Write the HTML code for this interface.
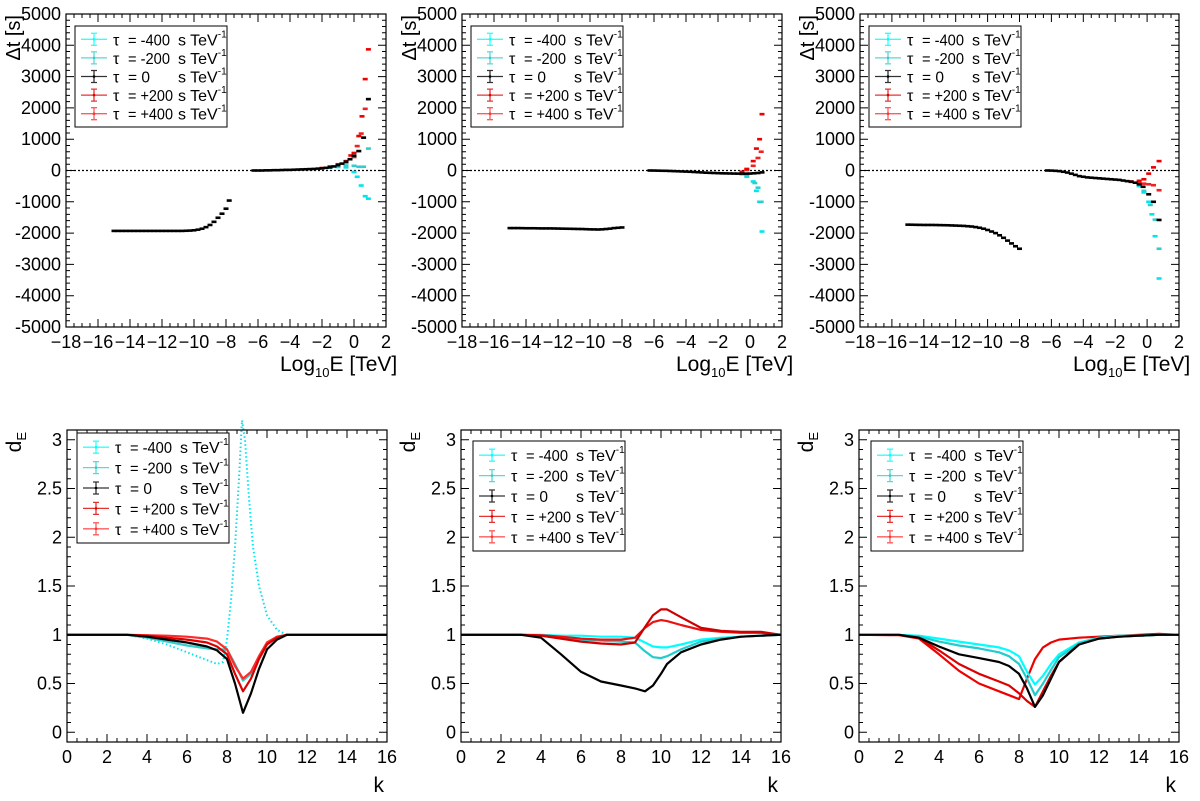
<!DOCTYPE html>
<html><head><meta charset="utf-8">
<style>
html,body{margin:0;padding:0;background:#fff;}
svg{display:block;font-family:"Liberation Sans",Arial,sans-serif;}
</style></head>
<body>
<svg id="fig" width="1200" height="801" viewBox="0 0 1200 801" xmlns="http://www.w3.org/2000/svg"></svg>
<script>
// ---------- TOP ROW DATA (Delta t vs log10 E) ----------
const topLowX1 = [-15,-14.75,-14.5,-14.25,-14,-13.75,-13.5,-13.25,-13,-12.75,-12.5,-12.25,-12,-11.75,-11.5,-11.25,-11,-10.75,-10.5,-10.25,-10,-9.75,-9.5,-9.25,-9,-8.75,-8.5,-8.25,-8,-7.8];
const topLowY1 = [-1930,-1930,-1930,-1930,-1930,-1930,-1930,-1930,-1930,-1930,-1930,-1930,-1930,-1930,-1930,-1930,-1930,-1930,-1925,-1920,-1910,-1890,-1860,-1810,-1740,-1640,-1510,-1380,-1220,-960];
const topHighX1 = [-6.25,-6,-5.75,-5.5,-5.25,-5,-4.75,-4.5,-4.25,-4,-3.75,-3.5,-3.25,-3,-2.75,-2.5,-2.25,-2,-1.75,-1.5,-1.25,-1,-0.75,-0.5,-0.25,0,0.3,0.6,0.9];
const topHighBlack1 = [0,0,0,5,5,10,10,15,20,20,25,30,35,40,45,50,60,70,85,100,130,170,220,280,360,470,620,1050,2280];
const topCyanAX1 = [-2,-1.5,-1,-0.5,0,0.2,0.45,0.7,0.9];
const topCyanA1 = [60,90,110,100,-50,-200,-480,-820,-900];
const topCyanBX1 = [-2,-1.5,-1,-0.5,0,0.3,0.6,0.9];
const topCyanB1 = [70,110,140,160,150,120,120,700];
const topRedAX1 = [-2,-1.5,-1,-0.5,-0.2,0,0.3,0.5,0.7,0.9];
const topRedA1 = [80,130,200,300,480,560,1100,1730,2920,3870];
const topRedBX1 = [-2,-1.5,-1,-0.5,0,0.2,0.45,0.7];
const topRedB1 = [70,110,170,260,430,780,1180,1970];

const topLowX2 = [-15,-14.75,-14.5,-14.25,-14,-13.75,-13.5,-13.25,-13,-12.75,-12.5,-12.25,-12,-11.75,-11.5,-11.25,-11,-10.75,-10.5,-10.25,-10,-9.75,-9.5,-9.25,-9,-8.75,-8.5,-8.25,-8];
const topLowY2 = [-1840,-1840,-1840,-1842,-1845,-1845,-1845,-1848,-1850,-1850,-1850,-1852,-1855,-1858,-1860,-1862,-1865,-1868,-1870,-1875,-1880,-1882,-1885,-1880,-1870,-1858,-1840,-1830,-1820];
const topHighX2 = [-6.25,-6,-5.75,-5.5,-5.25,-5,-4.75,-4.5,-4.25,-4,-3.75,-3.5,-3.25,-3,-2.75,-2.5,-2.25,-2,-1.75,-1.5,-1.25,-1,-0.75,-0.5,-0.25,0,0.25,0.5,0.75];
const topHighBlack2 = [0,-2,-5,-8,-10,-15,-20,-25,-30,-35,-40,-48,-55,-62,-70,-75,-80,-85,-90,-92,-95,-98,-100,-100,-100,-98,-90,-80,-60];
const topCyanAX2 = [-0.5,-0.2,0.2,0.4,0.6,0.75];
const topCyanA2 = [-120,-200,-350,-650,-1000,-1950];
const topCyanBX2 = [-0.5,-0.2,0.3,0.5,0.7];
const topCyanB2 = [-100,-150,-400,-550,-1000];
const topRedAX2 = [-0.5,-0.2,0.2,0.4,0.6,0.75];
const topRedA2 = [-40,50,300,700,1000,1800];
const topRedBX2 = [-0.5,-0.2,0.2,0.5,0.7];
const topRedB2 = [-60,20,150,400,600];

const topLowX3 = [-15,-14.75,-14.5,-14.25,-14,-13.75,-13.5,-13.25,-13,-12.75,-12.5,-12.25,-12,-11.75,-11.5,-11.25,-11,-10.75,-10.5,-10.25,-10,-9.75,-9.5,-9.25,-9,-8.75,-8.5,-8.25,-8];
const topLowY3 = [-1730,-1732,-1735,-1737,-1740,-1740,-1740,-1742,-1745,-1748,-1750,-1755,-1760,-1765,-1770,-1780,-1790,-1808,-1830,-1860,-1900,-1950,-2000,-2070,-2150,-2240,-2330,-2420,-2500];
const topHighX3 = [-6.25,-6,-5.75,-5.5,-5.25,-5,-4.75,-4.5,-4.25,-4,-3.75,-3.5,-3.25,-3,-2.75,-2.5,-2.25,-2,-1.75,-1.5,-1.25,-1,-0.75,-0.5,-0.25,0.1,0.4,0.75];
const topHighBlack3 = [0,-3,-10,-20,-40,-65,-100,-140,-180,-200,-220,-230,-240,-250,-260,-270,-280,-290,-300,-320,-340,-360,-390,-440,-520,-760,-1000,-1580];
const topCyanAX3 = [-0.5,-0.2,0.1,0.3,0.5,0.75];
const topCyanA3 = [-500,-700,-1000,-1400,-2100,-3450];
const topCyanBX3 = [-0.5,-0.2,0.2,0.5,0.75];
const topCyanB3 = [-450,-650,-1100,-1570,-2500];
const topRedAX3 = [-1,-0.5,-0.2,0.1,0.4,0.75];
const topRedA3 = [-350,-330,-280,-100,100,300];
const topRedBX3 = [-1,-0.5,-0.2,0.1,0.4,0.75];
const topRedB3 = [-360,-400,-420,-440,-470,-630];

// ---------- BOTTOM ROW DATA (d_E vs k) ----------
const kGrid1 = [0,1,2,3,4,5,6,7,7.5,8,8.4,8.8,9.2,9.6,10,10.5,11,12,13,14,15,16];
const dBlack1 = [1,1,1,1,0.98,0.95,0.92,0.88,0.84,0.75,0.5,0.2,0.4,0.65,0.85,0.95,1,1,1,1,1,1];
const dRedA1 = [1,1,1,1,0.99,0.97,0.95,0.92,0.88,0.8,0.6,0.42,0.55,0.75,0.9,0.97,1,1,1,1,1,1];
const dRedB1 = [1,1,1,1,0.995,0.99,0.98,0.96,0.93,0.85,0.68,0.55,0.62,0.78,0.92,0.98,1,1,1,1,1,1];
const dCyanB1 = [1,1,1,1,0.97,0.93,0.89,0.86,0.85,0.85,0.7,0.53,0.6,0.78,0.92,0.98,1,1,1,1,1,1];
const kSpike1 = [0,1,2,3,4,5,6,7,7.5,7.8,8.0,8.2,8.4,8.6,8.75,8.9,9.1,9.3,9.6,10,10.5,11,12,14,16];
const dCyanA1 = [1,1,1,1,0.96,0.9,0.82,0.74,0.7,0.72,0.95,1.35,1.9,2.6,3.2,3.0,2.4,1.9,1.5,1.2,1.05,1.0,1,1,1];

const kGrid2 = [0,2,3,4,5,6,7,8,8.7,9.2,9.6,10,10.3,11,12,13,14,15,16];
const dBlack2 = [1,1,1,0.97,0.8,0.62,0.52,0.48,0.45,0.42,0.48,0.6,0.7,0.82,0.9,0.95,0.98,0.99,1];
const dRedA2 = [1,1,1,0.99,0.96,0.93,0.91,0.9,0.92,1.08,1.2,1.26,1.26,1.18,1.07,1.04,1.03,1.03,1];
const dRedB2 = [1,1,1,0.995,0.98,0.96,0.95,0.95,0.97,1.07,1.13,1.15,1.14,1.1,1.05,1.03,1.02,1.02,1];
const dCyanA2 = [1,1,1,1,0.99,0.99,0.98,0.98,0.97,0.92,0.88,0.87,0.87,0.9,0.95,0.97,0.98,0.99,1];
const dCyanB2 = [1,1,1,0.99,0.97,0.95,0.94,0.93,0.92,0.83,0.77,0.76,0.78,0.85,0.93,0.96,0.98,0.99,1];

const kGrid3 = [0,2,3,4,5,6,7,7.5,8,8.4,8.8,9.2,9.6,10,11,12,13,14,15,16];
const dCyanA3 = [1,1,0.99,0.96,0.93,0.9,0.87,0.84,0.78,0.62,0.49,0.58,0.7,0.8,0.92,0.97,0.99,0.99,1,1];
const dCyanB3 = [1,1,0.98,0.93,0.89,0.86,0.82,0.78,0.7,0.55,0.38,0.5,0.64,0.77,0.91,0.97,0.98,0.99,1,1];
const dBlack3 = [1,1,0.97,0.88,0.8,0.76,0.72,0.68,0.6,0.45,0.26,0.38,0.55,0.72,0.9,0.96,0.98,0.99,1,1];
const dRedA3 = [1,0.995,0.96,0.8,0.63,0.5,0.42,0.38,0.34,0.55,0.75,0.87,0.92,0.95,0.97,0.98,0.99,1,1.01,1];
const dRedB3 = [1,1,0.97,0.84,0.7,0.6,0.52,0.48,0.4,0.32,0.26,0.42,0.58,0.72,0.9,0.96,0.98,0.99,1,1];

const legendValues = ["= -400","= -200","= 0","= +200","= +400"];
const legendColors = ["#00ffff","#33cccc","#000000","#dd0000","#ff3333"];

// ---------- drawing ----------
const NS = "http://www.w3.org/2000/svg";
const svg = document.getElementById("fig");
function mk(tag, attrs, parent){ const e=document.createElementNS(NS,tag); for(const k in attrs) e.setAttribute(k,attrs[k]); (parent||svg).appendChild(e); return e; }
function txt(s, x, y, size, anchor, parent){ const t=mk("text",{x:x,y:y,"font-size":size,"text-anchor":anchor||"start",fill:"#000"},parent); t.textContent=s; return t; }

function makeAxes(px0,px1,py0,py1,xmin,xmax,ymin,ymax){
  return { sx: v=>px0+(v-xmin)/(xmax-xmin)*(px1-px0), sy: v=>py1-(v-ymin)/(ymax-ymin)*(py1-py0) };
}

function frame(g,ax,px0,px1,py0,py1,xmaj,xmin_,xlo,xhi,ymaj,ymin_,ylo,yhi,xfmt,yfmt){
  mk("rect",{x:px0,y:py0,width:px1-px0,height:py1-py0,fill:"none",stroke:"#000","stroke-width":1.2},g);
  let d="";
  for(let v=xlo; v<=xhi+1e-9; v+=xmin_){
    const x=ax.sx(v); const major=Math.abs(v/xmaj-Math.round(v/xmaj))<1e-6; const L=major?8:4;
    d+=`M${x},${py1}v${-L}M${x},${py0}v${L}`;
  }
  for(let v=ylo; v<=yhi+1e-9; v+=ymin_){
    const y=ax.sy(v); const major=Math.abs(v/ymaj-Math.round(v/ymaj))<1e-6; const L=major?8:4;
    d+=`M${px0},${y}h${L}M${px1},${y}h${-L}`;
  }
  mk("path",{d:d,stroke:"#000","stroke-width":1,fill:"none"},g);
  for(let v=xlo; v<=xhi+1e-9; v+=xmaj){ const t=txt(xfmt(v),ax.sx(v),py1+21,18,"middle",g);
    
     }
  for(let v=ylo; v<=yhi+1e-9; v+=ymaj){ const t=txt(yfmt(v),px0-5,ax.sy(v)+6,18,"end",g);
    
     }
}
const fmtMinus = v => { const r=Math.round(v*100)/100; return r<0?"\u2212"+(-r):""+r; };
const fmtNum = v => { const r=Math.round(v*100)/100; return r<0?"-"+(-r):""+r; };

function legend(g,x0,y0,w,h){
  const box=mk("rect",{x:x0,y:y0,width:w,height:h,fill:"#fff",stroke:"#000","stroke-width":1},g);
  
  
  const step=(h-8)/5;
  for(let i=0;i<5;i++){
    const cy=y0+4+step*(i+0.5);
    const e=mk("g",{},g);
    
    
    const c=legendColors[i];
    mk("path",{d:`M${x0+6},${cy}h26M${x0+19},${cy-6}v12M${x0+16},${cy-6}h6M${x0+16},${cy+6}h6`,stroke:c,"stroke-width":1.3,fill:"none",opacity:0.8},e);
    mk("circle",{cx:x0+19,cy:cy,r:1.3,fill:c},e);
    txt("\u03c4",x0+38,cy+6,16,"start",e);
    const v=txt(legendValues[i],x0+53,cy+6,16,"start",e);
    const lens=[42,42,22,45,45];
    v.setAttribute("textLength",lens[i]);
    v.setAttribute("lengthAdjust","spacingAndGlyphs");
    const t=txt("s TeV",x0+103,cy+6,16,"start",e);
    const sup=mk("tspan",{"font-size":10,dy:-8},t); sup.textContent="-1";
  }
}

function scatter(g,ax,xs,ys,color){
  for(let i=0;i<xs.length;i++){
    const r=mk("rect",{x:ax.sx(xs[i])-2.5,y:ax.sy(ys[i])-1.3,width:5,height:2.6,fill:color},g);
    
    
  }
}
function line(g,ax,xs,ys,color,w,dash){
  let d="";
  for(let i=0;i<xs.length;i++) d+=(i?"L":"M")+ax.sx(xs[i]).toFixed(1)+","+ax.sy(ys[i]).toFixed(1);
  const p=mk("path",{d:d,stroke:color,"stroke-width":w||2,fill:"none","stroke-linejoin":"round"},g);
  if(dash) p.setAttribute("stroke-dasharray",dash);
  
  
}

const topX=[[66,386],[462,782],[860,1179]];
const topData=[
  [topLowX1,topLowY1,topHighX1,topHighBlack1,topCyanAX1,topCyanA1,topCyanBX1,topCyanB1,topRedAX1,topRedA1,topRedBX1,topRedB1],
  [topLowX2,topLowY2,topHighX2,topHighBlack2,topCyanAX2,topCyanA2,topCyanBX2,topCyanB2,topRedAX2,topRedA2,topRedBX2,topRedB2],
  [topLowX3,topLowY3,topHighX3,topHighBlack3,topCyanAX3,topCyanA3,topCyanBX3,topCyanB3,topRedAX3,topRedA3,topRedBX3,topRedB3]];
for(let p=0;p<3;p++){
  const [x0,x1]=topX[p]; const y0=14,y1=327;
  const g=mk("g",{});
  
  
  const ax=makeAxes(x0,x1,y0,y1,-18,2,-5000,5000);
  mk("line",{x1:x0,x2:x1,y1:ax.sy(0),y2:ax.sy(0),stroke:"#000","stroke-width":1.3,"stroke-dasharray":"2,2"},g);
  const D=topData[p];
  scatter(g,ax,D[0],D[1],"#000");
  scatter(g,ax,D[4],D[5],"#00e5ee");
  scatter(g,ax,D[6],D[7],"#33cccc");
  scatter(g,ax,D[10],D[11],"#ee2222");
  scatter(g,ax,D[8],D[9],"#ee0000");
  scatter(g,ax,D[2],D[3],"#000");
  frame(g,ax,x0,x1,y0,y1,2,0.5,-18,2,1000,200,-5000,5000,fmtMinus,fmtNum);
  legend(g,x0+9,y0+12,152,101);
  const xt=txt("Log",x1-106,371,21,"start",g);
  const s=mk("tspan",{"font-size":13,dy:6},xt); s.textContent="10";
  const s2=mk("tspan",{dy:-6},xt); s2.textContent="E [TeV]";
  
  
  const yt=txt("\u0394t [s]",0,0,20,"end",g);
  yt.setAttribute("transform",`translate(${x0-46},${y0+1}) rotate(-90)`);
  
  
}

const botX=[[67,387],[461,781],[859,1179]];
const botSeries=[
  [[kGrid1,dCyanB1,"#33cccc"],[kGrid1,dRedB1,"#ff2a2a"],[kGrid1,dRedA1,"#dd0000"],[kGrid1,dBlack1,"#000"]],
  [[kGrid2,dCyanA2,"#00ffff"],[kGrid2,dCyanB2,"#22cccc"],[kGrid2,dRedB2,"#ee1111"],[kGrid2,dRedA2,"#cc0000"],[kGrid2,dBlack2,"#000"]],
  [[kGrid3,dRedA3,"#ee0000"],[kGrid3,dRedB3,"#dd0000"],[kGrid3,dCyanA3,"#00ffff"],[kGrid3,dCyanB3,"#22cccc"],[kGrid3,dBlack3,"#000"]]];
for(let p=0;p<3;p++){
  const [x0,x1]=botX[p]; const y0=430,y1=742;
  const g=mk("g",{});
  
  
  const ax=makeAxes(x0,x1,y0,y1,0,16,-0.1,3.1);
  if(p===0) line(g,ax,kSpike1,dCyanA1,"#00e5ee",2,"1.5,2.5");
  botSeries[p].forEach(s=>line(g,ax,s[0],s[1],s[2],2.2));
  frame(g,ax,x0,x1,y0,y1,2,0.5,0,16,0.5,0.1,0,3,fmtNum,fmtNum);
  legend(g,x0+10+(p?2:0),y0+(p?11:3),152,110);
  const xt=txt("k",x1-3,792,21,"end",g);
  
  
  const yt=txt("d",0,0,21,"end",g);
  const sub=mk("tspan",{"font-size":13,dy:5},yt); sub.textContent="E";
  yt.setAttribute("transform",`translate(${x0-46},${y0+2}) rotate(-90)`);
  
  
}
</script>
</body></html>
